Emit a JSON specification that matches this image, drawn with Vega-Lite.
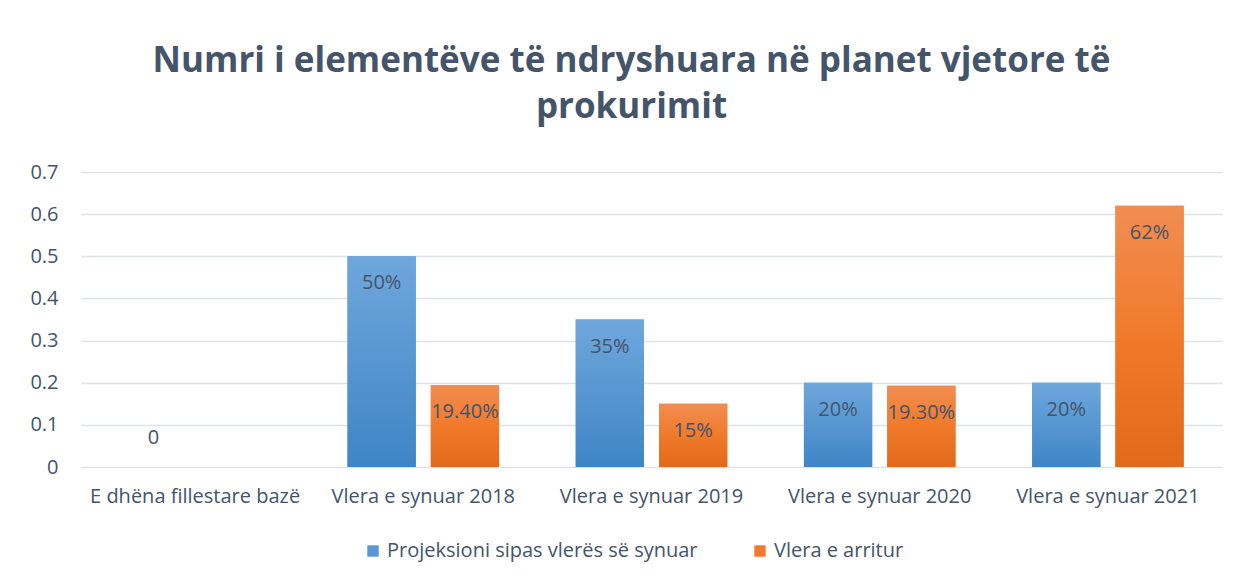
{
  "$schema": "https://vega.github.io/schema/vega-lite/v6.json",
  "width": 1141,
  "height": 295,
  "autosize": {"type": "none"},
  "padding": {"left": 81, "top": 172, "right": 16, "bottom": 116},
  "background": "white",
  "title": {
    "text": ["Numri i elementëve të ndryshuara në planet vjetore të", "prokurimit"],
    "font": "Open Sans",
    "fontSize": 35,
    "fontWeight": "bold",
    "color": "#44546A",
    "lineHeight": 46,
    "anchor": "middle",
    "frame": "group",
    "offset": 37,
    "dx": -20
  },
  "data": {
    "values": [
      {"kategoria": "E dhëna fillestare bazë", "seria": "Projeksioni sipas vlerës së synuar", "vlera": 0, "etiketa": "0"},
      {"kategoria": "Vlera e synuar 2018", "seria": "Projeksioni sipas vlerës së synuar", "vlera": 0.5, "etiketa": "50%"},
      {"kategoria": "Vlera e synuar 2018", "seria": "Vlera e arritur", "vlera": 0.194, "etiketa": "19.40%"},
      {"kategoria": "Vlera e synuar 2019", "seria": "Projeksioni sipas vlerës së synuar", "vlera": 0.35, "etiketa": "35%"},
      {"kategoria": "Vlera e synuar 2019", "seria": "Vlera e arritur", "vlera": 0.15, "etiketa": "15%"},
      {"kategoria": "Vlera e synuar 2020", "seria": "Projeksioni sipas vlerës së synuar", "vlera": 0.2, "etiketa": "20%"},
      {"kategoria": "Vlera e synuar 2020", "seria": "Vlera e arritur", "vlera": 0.193, "etiketa": "19.30%"},
      {"kategoria": "Vlera e synuar 2021", "seria": "Projeksioni sipas vlerës së synuar", "vlera": 0.2, "etiketa": "20%"},
      {"kategoria": "Vlera e synuar 2021", "seria": "Vlera e arritur", "vlera": 0.62, "etiketa": "62%"}
    ]
  },
  "encoding": {
    "x": {
      "field": "kategoria",
      "type": "nominal",
      "sort": null,
      "scale": {"paddingInner": 0, "paddingOuter": 0},
      "axis": {
        "title": null,
        "labelAngle": 0,
        "labelFont": "Open Sans",
        "labelFontSize": 20,
        "labelColor": "#44546A",
        "labelPadding": 19,
        "labelLimit": 0,
        "ticks": false,
        "domain": false
      }
    },
    "xOffset": {
      "field": "seria",
      "type": "nominal",
      "scale": {"domain": ["Projeksioni sipas vlerës së synuar", "Vlera e arritur"], "paddingInner": 0.18, "paddingOuter": 0.46}
    },
    "y": {
      "field": "vlera",
      "type": "quantitative",
      "scale": {"domain": [0, 0.7], "nice": false},
      "axis": {
        "title": null,
        "values": [0, 0.1, 0.2, 0.3, 0.4, 0.5, 0.6, 0.7],
        "labelExpr": "datum.value == 0 ? '0' : format(datum.value, '.1f')",
        "labelFont": "Open Sans",
        "labelFontSize": 20,
        "labelColor": "#44546A",
        "labelPadding": 23,
        "ticks": false,
        "domain": false,
        "gridColor": "#DDE2EA",
        "gridWidth": 1.5
      }
    }
  },
  "layer": [
    {
      "mark": {"type": "bar"},
      "encoding": {
        "color": {
          "field": "seria",
          "type": "nominal",
          "scale": {
            "domain": ["Projeksioni sipas vlerës së synuar", "Vlera e arritur"],
            "range": ["#5797D3", "#EE7B30"]
          },
          "legend": {
            "title": null,
            "orient": "none",
            "legendX": 282,
            "legendY": 369,
            "direction": "horizontal",
            "symbolType": "square",
            "symbolSize": 130,
            "symbolStrokeWidth": 0,
            "labelFont": "Open Sans",
            "labelFontSize": 20,
            "labelColor": "#44546A",
            "labelLimit": 0,
            "columnPadding": 52
          }
        }
      }
    },
    {
      "mark": {"type": "bar"},
      "encoding": {
        "color": {
          "condition": {
            "test": "datum.seria == 'Vlera e arritur'",
            "value": {"gradient": "linear", "x1": 0, "y1": 0, "x2": 0, "y2": 1, "stops": [{"offset": 0, "color": "#F18D52"}, {"offset": 0.5, "color": "#F07A2A"}, {"offset": 1, "color": "#E2691A"}]}
          },
          "value": {"gradient": "linear", "x1": 0, "y1": 0, "x2": 0, "y2": 1, "stops": [{"offset": 0, "color": "#6FA7DC"}, {"offset": 1, "color": "#3F85C6"}]}
        }
      }
    },
    {
      "transform": [{"filter": "datum.vlera > 0"}],
      "mark": {"type": "text", "dy": 27, "font": "Open Sans", "fontSize": 20, "color": "#44546A", "baseline": "middle"},
      "encoding": {"text": {"field": "etiketa"}}
    },
    {
      "transform": [{"filter": "datum.vlera == 0"}],
      "mark": {"type": "text", "dy": -29, "font": "Open Sans", "fontSize": 20, "color": "#44546A", "baseline": "middle"},
      "encoding": {"text": {"field": "etiketa"}}
    }
  ],
  "config": {"view": {"stroke": null}}
}
